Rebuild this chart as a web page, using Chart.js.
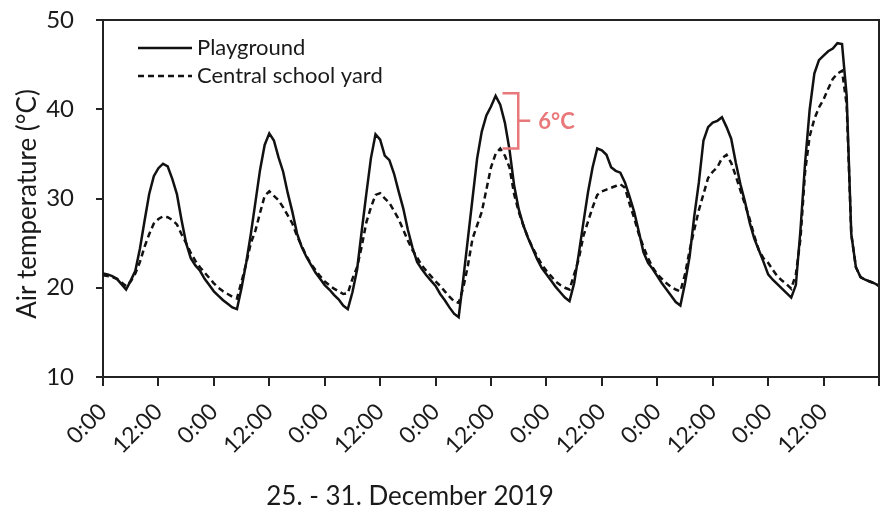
<!DOCTYPE html>
<html>
<head>
<meta charset="utf-8">
<script src="https://cdn.jsdelivr.net/npm/chart.js@4.4.1/dist/chart.umd.min.js"></script>
<style>
  html, body { margin: 0; padding: 0; background: #fff; }
  #wrap { width: 885px; height: 516px; }
</style>
</head>
<body>
<div id="wrap"><canvas id="c" width="885" height="516"></canvas></div>
<script>
// ---- data (hourly, 25.12.2019 0:00 -> 1.1.2020 0:00) ----
const playground = [
  21.6, 21.5, 21.3, 21.0, 20.4, 19.8, 20.8, 21.9, 24.4, 27.5, 30.5, 32.5,
  33.4, 33.9, 33.6, 32.2, 30.5, 27.6, 25.0, 23.3, 22.5, 21.9, 21.0, 20.3,
  19.6, 19.1, 18.6, 18.2, 17.8, 17.6, 20.0, 22.8, 26.0, 29.6, 33.2, 36.0,
  37.3, 36.5, 34.6, 33.0, 30.6, 28.5, 26.1, 24.6, 23.5, 22.6, 21.7, 21.0,
  20.3, 19.8, 19.2, 18.7, 18.0, 17.6, 19.5, 22.0, 26.3, 30.5, 34.5, 37.2,
  36.6, 34.8, 34.3, 32.8, 30.8, 28.9, 26.5, 24.5, 22.9, 22.1, 21.4, 20.8,
  20.2, 19.3, 18.6, 17.8, 17.1, 16.7, 21.0, 25.5, 30.0, 34.5, 37.5, 39.3,
  40.3, 41.5, 40.5, 38.5, 35.5, 31.5, 28.8, 27.0, 25.6, 24.4, 23.2, 22.2,
  21.5, 20.8, 20.1, 19.5, 18.9, 18.5, 20.5, 23.8, 27.3, 30.7, 33.5, 35.6,
  35.4, 34.9, 33.5, 33.1, 32.9, 31.8, 30.2, 28.5, 26.3, 24.0, 22.8, 22.1,
  21.3, 20.5, 19.8, 19.1, 18.4, 18.0, 20.5, 23.5, 28.0, 31.8, 36.5, 38.0,
  38.5, 38.7, 39.1, 38.0, 36.7, 34.0, 31.6, 29.6, 27.3, 25.5, 24.2, 22.9,
  21.5, 20.9, 20.4, 19.9, 19.4, 18.9, 20.3, 26.5, 34.0, 40.0, 44.0, 45.5,
  46.0, 46.5, 46.8, 47.4, 47.3, 41.5, 26.0, 22.3, 21.2, 20.9, 20.7, 20.5,
  20.2
];
const centralYard = [
  21.4, 21.3, 21.2, 21.0, 20.6, 20.2, 20.7, 21.6, 22.9, 24.6, 26.0, 27.2,
  27.7, 28.0, 27.9, 27.6, 27.1, 26.0, 25.0, 23.9, 23.0, 22.3, 21.7, 21.1,
  20.5, 20.0, 19.6, 19.3, 19.0, 18.8, 20.7, 22.7, 25.0, 26.4, 28.4, 30.3,
  30.8, 30.3, 29.8, 29.0, 28.1, 27.2, 25.8, 24.7, 23.6, 22.7, 22.0, 21.3,
  20.7, 20.3, 19.9, 19.6, 19.3, 19.4, 21.0, 22.3, 24.6, 27.3, 29.0, 30.4,
  30.6, 30.0, 29.5, 28.6, 27.7, 26.5, 25.3, 24.2, 23.4, 22.5, 21.9, 21.3,
  20.7, 20.2, 19.6, 19.0, 18.5, 18.3, 20.0, 22.5, 25.5, 27.0, 28.5, 31.0,
  33.5, 35.0, 35.6, 34.8, 33.5, 30.5, 28.5, 27.0, 25.6, 24.5, 23.5, 22.6,
  21.9, 21.3, 20.7, 20.3, 20.0, 19.8, 21.5, 23.2, 25.8, 27.4, 29.0, 30.4,
  30.8, 31.0, 31.2, 31.4, 31.6, 31.2, 29.4, 27.8, 26.0, 24.6, 23.3, 22.3,
  21.5, 21.0, 20.5, 20.1, 19.8, 19.6, 21.5, 24.2, 26.5, 28.7, 30.5, 32.3,
  33.0, 33.5, 34.5, 34.9, 34.0, 32.5, 30.9, 29.3, 27.7, 25.8, 24.2, 23.3,
  22.8, 22.0, 21.3, 20.8, 20.4, 19.9, 21.5, 25.5, 33.0, 37.0, 38.9, 40.2,
  41.1, 42.3, 43.4, 44.0, 44.3, 40.5, 26.0, 22.3, 21.2, 20.9, 20.7, 20.5,
  20.2
];
const seriesNames = ["Playground", "Central school yard"];
const xTickLabels = ["0:00", "12:00"];
const yTicks = [10, 20, 30, 40, 50];
const yTitle = "Air temperature (°C)";
const xTitle = "25. - 31. December 2019";
// annotation: difference bracket on 28 Dec peak
const annoHours = [86.5, 89.9];
const annoValues = [41.8, 35.6];
const annoLabel = "6°C";

const FONT = "Lato, 'Open Sans', 'DejaVu Sans', sans-serif";
const INK = '#222';
const RED = '#E9787B';

const toXY = arr => arr.map((v, i) => ({ x: i, y: v }));

const decorPlugin = {
  id: 'decor',
  afterDatasetsDraw(chart) {
    const ctx = chart.ctx;
    const a = chart.chartArea;
    const xs = chart.scales.x, ys = chart.scales.y;
    ctx.save();
    // frame (top & right)
    ctx.strokeStyle = INK;
    ctx.lineWidth = 2;
    ctx.beginPath();
    ctx.moveTo(a.left, a.top);
    ctx.lineTo(a.right, a.top);
    ctx.lineTo(a.right, a.bottom);
    ctx.stroke();

    // legend
    ctx.lineWidth = 2.5;
    ctx.strokeStyle = '#111';
    const lx0 = a.left + 35, lx1 = a.left + 89;
    const ly = [a.top + 28, a.top + 56];
    ctx.setLineDash([]);
    ctx.beginPath(); ctx.moveTo(lx0, ly[0]); ctx.lineTo(lx1, ly[0]); ctx.stroke();
    ctx.setLineDash([6, 4]);
    ctx.beginPath(); ctx.moveTo(lx0, ly[1]); ctx.lineTo(lx1, ly[1]); ctx.stroke();
    ctx.setLineDash([]);
    ctx.fillStyle = '#1a1a1a';
    ctx.font = "22px " + FONT;
    ctx.textAlign = 'left';
    ctx.textBaseline = 'middle';
    ctx.fillText(seriesNames[0], lx1 + 5, ly[0]);
    ctx.fillText(seriesNames[1], lx1 + 5, ly[1]);

    // annotation bracket
    const bx0 = xs.getPixelForValue(annoHours[0]);
    const bx1 = xs.getPixelForValue(annoHours[1]);
    const by0 = ys.getPixelForValue(annoValues[0]);
    const by1 = ys.getPixelForValue(annoValues[1]);
    const bym = (by0 + by1) / 2;
    ctx.strokeStyle = RED;
    ctx.lineWidth = 2.5;
    ctx.beginPath();
    ctx.moveTo(bx0, by0); ctx.lineTo(bx1, by0); ctx.lineTo(bx1, by1); ctx.lineTo(bx0, by1);
    ctx.moveTo(bx1, bym); ctx.lineTo(bx1 + 12, bym);
    ctx.stroke();
    ctx.fillStyle = RED;
    ctx.font = "bold 22px " + FONT;
    ctx.fillText(annoLabel, bx1 + 20, bym + 1);

    // axis titles
    ctx.fillStyle = '#1a1a1a';
    ctx.font = "26px " + FONT;
    ctx.textAlign = 'center';
    ctx.textBaseline = 'middle';
    ctx.save();
    ctx.translate(28, 204);
    ctx.rotate(-Math.PI / 2);
    ctx.fillText(yTitle, 0, 0);
    ctx.restore();
    ctx.font = "26px " + FONT;
    ctx.fillText(xTitle, 410, 497);
    ctx.restore();
  }
};

new Chart(document.getElementById('c'), {
  type: 'line',
  data: {
    datasets: [
      { label: seriesNames[0], data: toXY(playground), borderColor: '#111', borderWidth: 2.5,
        pointRadius: 0, tension: 0, fill: false },
      { label: seriesNames[1], data: toXY(centralYard), borderColor: '#111', borderWidth: 2.5,
        borderDash: [6, 4], pointRadius: 0, tension: 0, fill: false }
    ]
  },
  options: {
    responsive: false,
    animation: false,
    events: [],
    layout: { padding: { top: 20, right: 6, bottom: 0, left: 0 } },
    plugins: { legend: { display: false }, tooltip: { enabled: false } },
    scales: {
      x: {
        type: 'linear', min: 0, max: 168,
        afterFit(s) { s.height = 139; s.paddingLeft = 0; s.paddingRight = 0; },
        border: { display: true, color: INK, width: 2 },
        grid: { drawOnChartArea: false, drawTicks: true, tickLength: 9, color: INK, lineWidth: 2 },
        ticks: {
          stepSize: 12, autoSkip: false, minRotation: 45, maxRotation: 45, padding: 12,
          color: '#1a1a1a', font: { family: FONT, size: 23 },
          callback: v => (v >= 168 ? '' : xTickLabels[(v / 12) % 2])
        }
      },
      y: {
        min: 10, max: 50,
        afterFit(s) { s.width = 103; s.paddingTop = 0; s.paddingBottom = 0; },
        afterBuildTicks(s) { s.ticks = yTicks.map(v => ({ value: v })); },
        border: { display: true, color: INK, width: 2 },
        grid: { drawOnChartArea: false, drawTicks: true, tickLength: 7, color: INK, lineWidth: 2 },
        ticks: { padding: 22, color: '#1a1a1a', font: { family: FONT, size: 24 } }
      }
    }
  },
  plugins: [decorPlugin]
});
</script>
</body>
</html>
